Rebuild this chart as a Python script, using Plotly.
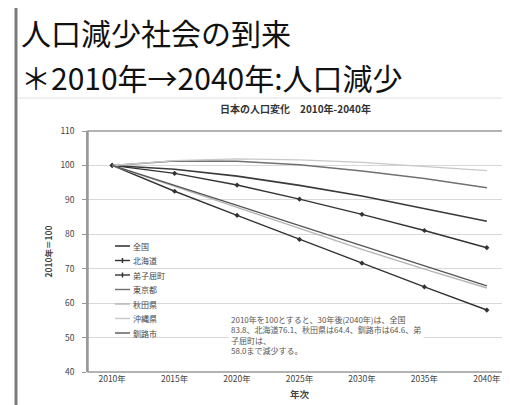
import plotly.graph_objects as go

years = ["2010年", "2015年", "2020年", "2025年", "2030年", "2035年", "2040年"]
zenkoku = [100, 98.9, 96.9, 94.2, 91.1, 87.5, 83.8]
hokkaido = [100, 97.7, 94.3, 90.2, 85.8, 81.1, 76.1]
teshikaga = [100, 92.5, 85.5, 78.5, 71.6, 64.7, 58.0]
tokyo = [100, 101.3, 101.2, 100.2, 98.4, 96.2, 93.5]
akita = [100, 93.9, 87.9, 81.8, 75.6, 69.9, 64.4]
okinawa = [100, 101.4, 101.9, 101.6, 100.9, 99.7, 98.5]
kushiro = [100, 94.3, 88.4, 82.5, 76.7, 70.8, 65.0]

series = [
    ("全国", zenkoku, "#3a3a3a", 1.6, False),
    ("北海道", hokkaido, "#333333", 1.4, True),
    ("弟子屈町", teshikaga, "#333333", 1.4, True),
    ("東京都", tokyo, "#707070", 1.4, False),
    ("秋田県", akita, "#b5b5b5", 1.4, False),
    ("沖縄県", okinawa, "#c8c8c8", 1.4, False),
    ("釧路市", kushiro, "#555555", 1.4, False),
]

W, H = 510, 405
L, R, T, B = 80, 7, 123, 41
PW, PH = W - L - R, H - T - B

def px(x):
    return (x - L) / PW

def py(y):
    return (H - B - y) / PH

font_cjk = "Noto Sans CJK JP"

fig = go.Figure()
for name, vals, col, w, mk in series:
    fig.add_trace(go.Scatter(
        x=years, y=vals, name=name,
        mode="lines+markers" if mk else "lines",
        line=dict(color=col, width=w),
        marker=dict(symbol="diamond", size=4, color=col),
        showlegend=False,
    ))

annotations = [
    dict(text="人口減少社会の到来", x=px(12), y=py(24), xref="paper", yref="paper",
         xanchor="left", yanchor="middle", showarrow=False, borderpad=0,
         font=dict(size=30, color="#111111", family=font_cjk)),
    dict(text="＊2010年→2040年:人口減少", x=px(12), y=py(69.5), xref="paper", yref="paper",
         xanchor="left", yanchor="middle", showarrow=False, borderpad=0,
         font=dict(size=30, color="#111111", family=font_cjk)),
    dict(text="<b>日本の人口変化　2010年-2040年</b>", x=px(287), y=py(100.5), xref="paper", yref="paper",
         xanchor="center", yanchor="middle", showarrow=False, borderpad=0,
         font=dict(size=10, color="#333333", family=font_cjk)),
    dict(text="2010年を100とすると、30年後(2040年)は、全国<br>83.8、北海道76.1、秋田県は64.4、釧路市は64.6、弟<br>子屈町は、<br>58.0まで減少する。",
         x=px(220), y=py(303), xref="paper", yref="paper",
         xanchor="left", yanchor="top", showarrow=False, align="left",
         bgcolor="white", borderpad=2,
         font=dict(size=8, color="#555555", family=font_cjk)),
]

shapes = [
    dict(type="line", xref="paper", yref="paper", x0=px(8), x1=px(8), y0=py(0), y1=py(405),
         line=dict(color="#7a7a7a", width=3)),
    dict(type="line", xref="paper", yref="paper", x0=px(10), x1=px(510), y0=py(90), y1=py(90),
         line=dict(color="#e0e0e0", width=1)),
    dict(type="rect", xref="paper", yref="paper", x0=0, x1=1, y0=0, y1=1,
         line=dict(color="#999999", width=1.5)),
    # legend background
    dict(type="rect", xref="paper", yref="paper", x0=px(102), x1=px(168), y0=py(230), y1=py(333),
         fillcolor="white", line=dict(width=0), layer="between"),
]

# custom compact legend (key lines + labels)
leg_y0, leg_dy = 238, 14.5
for i, (name, vals, col, w, mk) in enumerate(series):
    yy = leg_y0 + i * leg_dy
    shapes.append(dict(type="line", xref="paper", yref="paper",
                       x0=px(107), x1=px(122), y0=py(yy), y1=py(yy),
                       line=dict(color=col, width=w)))
    if mk:
        shapes.append(dict(type="line", xref="paper", yref="paper",
                           x0=px(114.5), x1=px(114.5), y0=py(yy - 2.5), y1=py(yy + 2.5),
                           line=dict(color=col, width=1.5)))
    annotations.append(dict(text=name, x=px(124), y=py(yy), xref="paper", yref="paper",
                            xanchor="left", yanchor="middle", showarrow=False, borderpad=0,
                            font=dict(size=8, color="#444444", family=font_cjk)))

fig.update_layout(
    width=W, height=H,
    margin=dict(l=L, r=R, t=T, b=B),
    paper_bgcolor="white", plot_bgcolor="white",
    font=dict(family=font_cjk, color="#444444"),
    showlegend=False,
    annotations=annotations,
    shapes=shapes,
    xaxis=dict(type="category", showgrid=False, showline=False, ticks="",
               tickfont=dict(size=8.5, color="#444444"),
               title=dict(text="<b>年次</b>", font=dict(size=9.5, color="#444444"), standoff=8)),
    yaxis=dict(range=[40, 110], dtick=10, showgrid=True, gridcolor="#d8d8d8", gridwidth=1,
               showline=True, linecolor="#999999", linewidth=1.5,
               ticks="outside", ticklen=4, tickcolor="#999999",
               ticklabelstandoff=6,
               tickfont=dict(size=8.5, color="#444444"),
               zeroline=False,
               title=dict(text="<b>2010年＝100</b>", font=dict(size=8.5, color="#444444"), standoff=6)),
)

fig.write_html("out.html")
